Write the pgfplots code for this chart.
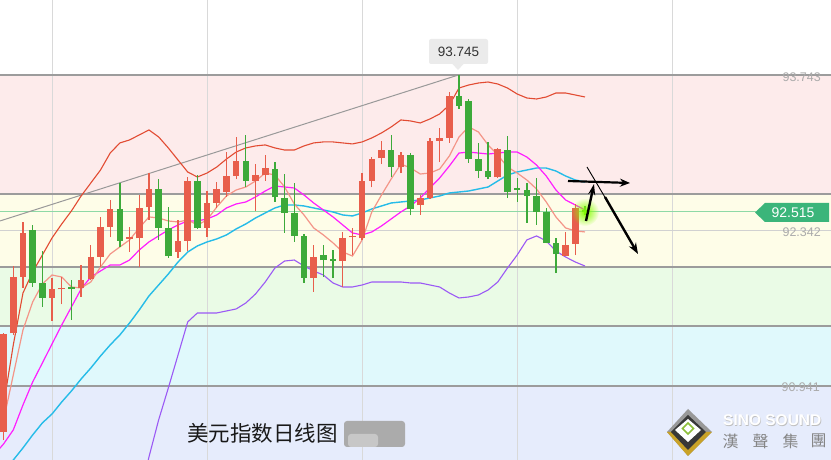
\documentclass[border=0pt]{standalone}
\usepackage{fontspec}
\setmainfont{Liberation Sans}
\newfontfamily\cjk{Noto Sans CJK SC}
\newfontfamily\cjktc{Noto Sans CJK TC}
\usepackage{pgfplots}
\usepackage{pgfplotstable}
\pgfplotsset{compat=1.18}
\usetikzlibrary{fadings,arrows.meta}

\definecolor{candleup}{HTML}{E85E4C}
\definecolor{candledn}{HTML}{3DAA3A}
\definecolor{bandpink}{HTML}{FDEBEB}
\definecolor{bandyel}{HTML}{FEFDE8}
\definecolor{bandgrn}{HTML}{EAFBE6}
\definecolor{bandcyan}{HTML}{E0F9FC}
\definecolor{bandlav}{HTML}{E6ECFC}
\definecolor{levelgray}{HTML}{9C9C9C}
\definecolor{gridgray}{HTML}{D9D9D9}
\definecolor{lastgreen}{HTML}{8ED9A6}
\definecolor{tagreen}{HTML}{3BB57A}
\definecolor{lblgray}{HTML}{ABABAB}
\definecolor{ubcol}{HTML}{E24B32}
\definecolor{midcol}{HTML}{26BCE8}
\definecolor{macol}{HTML}{FF1EFF}
\definecolor{salmon}{HTML}{F49588}
\definecolor{lbcol}{HTML}{9B59F5}
\definecolor{gold}{HTML}{C9A227}
\definecolor{logogreen}{HTML}{8DBF3A}

\tikzfading[name=glow, inner color=transparent!0, outer color=transparent!100]

% candles: index, open, high, low, close
\pgfplotstableread{
i o h l c
1 90.527 91.420 90.455 91.410
2 91.416 92.022 91.401 91.926
3 91.923 92.421 91.824 92.320
6 91.734 91.914 91.529 91.815
7 91.811 91.926 91.677 91.824
9 91.821 92.031 91.746 91.896
10 91.903 92.212 91.896 92.106
11 92.106 92.467 92.016 92.376
12 92.376 92.617 92.281 92.536
14 92.266 92.374 92.151 92.279
15 92.272 92.662 92.016 92.542
16 92.551 92.860 92.437 92.716
19 92.151 92.437 92.097 92.248
20 92.250 92.827 92.157 92.788
22 92.367 92.701 92.286 92.587
23 92.593 92.782 92.545 92.716
24 92.692 93.047 92.647 92.833
25 92.836 93.182 92.804 92.968
27 92.791 92.939 92.521 92.842
28 92.842 93.022 92.788 92.903
33 91.917 92.212 91.791 92.101
36 92.070 92.331 91.830 92.272
37 92.279 92.362 92.121 92.293
38 92.272 92.858 92.257 92.788
39 92.791 93.007 92.731 92.986
40 92.993 93.151 92.939 93.067
42 92.917 93.052 92.858 93.022
44 92.569 92.662 92.482 92.635
45 92.638 93.173 92.623 93.149
46 93.151 93.266 92.959 93.173
47 93.178 93.593 93.133 93.554
52 92.822 93.083 92.813 93.074
59 92.115 92.331 92.115 92.212
60 92.221 92.578 92.121 92.548
}\upcandles

\pgfplotstableread{
i o h l c
4 92.347 92.392 91.836 91.872
5 91.869 92.157 91.656 91.734
8 91.829 91.896 91.536 91.815
13 92.536 92.773 92.191 92.250
17 92.716 92.806 92.257 92.367
18 92.367 92.551 92.097 92.112
21 92.788 92.842 92.356 92.367
26 92.968 93.203 92.737 92.791
29 92.894 92.962 92.602 92.641
30 92.632 92.851 92.322 92.503
31 92.497 92.770 92.241 92.295
32 92.293 92.311 91.872 91.917
34 92.121 92.212 91.926 92.076
35 92.081 92.166 91.912 92.067
41 93.067 93.203 92.822 92.917
43 93.022 93.038 92.479 92.533
48 93.554 93.745 93.437 93.467
49 93.509 93.527 92.953 92.986
50 92.984 93.133 92.813 92.881
51 92.878 93.142 92.804 92.822
53 93.067 93.194 92.638 92.692
54 92.722 92.813 92.602 92.709
55 92.707 92.767 92.412 92.656
56 92.656 92.813 92.392 92.512
57 92.506 92.542 92.227 92.232
58 92.227 92.272 91.957 92.130
61 92.527 92.563 92.482 92.513
}\dncandles

% bands and averages: upper, middle, lower, ma10, ma5
\pgfplotstableread{
i ub mid lb ma ms
0 90.455 90.058 nan 90.319 90.410
1 90.770 90.166 nan 90.419 90.635
2 91.311 90.274 nan 90.545 91.040
3 91.779 90.383 nan 90.770 91.446
4 91.968 90.500 nan 90.977 91.698
5 92.121 90.608 nan 91.148 91.860
6 92.275 90.689 nan 91.320 91.941
7 92.401 90.797 nan 91.491 91.923
8 92.518 90.896 nan 91.653 91.833
9 92.653 91.004 nan 91.815 91.824
10 92.770 91.103 nan 91.923 91.878
11 92.887 91.211 nan 91.977 92.013
12 93.040 91.311 nan 92.031 92.130
13 93.131 91.401 nan 92.031 92.194
14 93.158 91.509 nan 92.076 92.257
15 93.203 91.626 89.914 92.166 92.365
16 93.248 91.752 90.301 92.239 92.464
17 93.185 91.851 90.635 92.293 92.455
18 93.086 91.950 90.923 92.347 92.428
19 92.977 92.058 91.220 92.392 92.419
20 92.869 92.148 91.518 92.428 92.437
21 92.824 92.203 91.599 92.428 92.392
22 92.860 92.239 91.599 92.446 92.437
23 92.914 92.266 91.599 92.482 92.554
24 92.986 92.302 91.617 92.545 92.653
25 93.049 92.356 91.635 92.581 92.707
26 93.086 92.401 91.689 92.599 92.734
27 93.104 92.455 91.770 92.644 92.788
28 93.113 92.500 91.878 92.698 92.860
29 93.086 92.545 92.004 92.743 92.842
30 93.067 92.572 92.067 92.734 92.734
31 93.067 92.572 92.076 92.725 92.581
32 93.104 92.563 92.022 92.662 92.482
33 93.131 92.545 91.977 92.590 92.365
34 93.140 92.527 91.941 92.527 92.302
35 93.140 92.509 91.869 92.464 92.230
36 93.131 92.482 91.833 92.392 92.148
37 93.122 92.473 91.833 92.320 92.112
38 93.140 92.500 91.851 92.302 92.257
39 93.176 92.536 91.878 92.329 92.509
40 93.221 92.563 91.878 92.383 92.662
41 93.275 92.590 91.878 92.446 92.806
42 93.338 92.599 91.878 92.509 92.941
43 93.329 92.608 91.869 92.563 92.905
44 93.311 92.617 91.869 92.635 92.851
45 93.347 92.635 91.851 92.725 92.860
46 93.392 92.653 91.833 92.815 92.896
47 93.473 92.680 91.779 92.923 93.013
48 93.626 92.689 91.734 93.040 93.185
49 93.653 92.698 91.743 93.049 93.275
50 93.671 92.716 91.761 93.040 93.230
51 93.680 92.734 91.806 93.031 93.113
52 93.662 92.788 91.878 93.040 93.022
53 93.626 92.842 92.004 93.049 92.914
54 93.572 92.869 92.121 93.049 92.860
55 93.536 92.887 92.257 93.004 92.797
56 93.527 92.905 92.293 92.932 92.716
57 93.545 92.905 92.248 92.833 92.599
58 93.581 92.878 92.157 92.707 92.464
59 93.581 92.833 92.103 92.617 92.365
60 93.563 92.797 92.058 92.572 92.338
61 93.545 92.779 92.022 92.527 92.329
}\lines

\pgfplotsset{
  candle/.style 2 args={draw=none, no markers, forget plot,
    error bars/.cd, y dir=plus, y explicit, error mark=none,
    error bar style={draw=#1, solid, line width=#2}},
}

\begin{document}
\begin{tikzpicture}
\begin{axis}[
  at={(0,0)}, anchor=south west,
  scale only axis, width=831bp, height=460bp,
  xmin=0.628, xmax=86.39, ymin=90.274, ymax=94.419,
  hide axis, clip=true,
  unbounded coords=discard,
]
% coloured zones of the retracement
\fill[bandpink] (axis cs:0,93.743) rectangle (axis cs:90,92.671);
\fill[bandyel]  (axis cs:0,92.671) rectangle (axis cs:90,92.013);
\fill[bandgrn]  (axis cs:0,92.013) rectangle (axis cs:90,91.482);
\fill[bandcyan] (axis cs:0,91.482) rectangle (axis cs:90,90.941);
\fill[bandlav]  (axis cs:0,90.941) rectangle (axis cs:90,90.0);

% vertical grid
\addplot[gridgray, line width=1bp, forget plot] coordinates {(6,90.2) (6,94.5)};
\addplot[gridgray, line width=1bp, forget plot] coordinates {(22,90.2) (22,94.5)};
\addplot[gridgray, line width=1bp, forget plot] coordinates {(38,90.2) (38,94.5)};
\addplot[gridgray, line width=1bp, forget plot] coordinates {(54,90.2) (54,94.5)};
\addplot[gridgray, line width=1bp, forget plot] coordinates {(70,90.2) (70,94.5)};

% retracement levels
\addplot[levelgray, line width=1.3bp, forget plot] coordinates {(0,93.743) (90,93.743)};
\addplot[levelgray, line width=1.3bp, forget plot] coordinates {(0,92.671) (90,92.671)};
\addplot[black!18, line width=1bp, forget plot] coordinates {(0,92.342) (90,92.342)};
\addplot[levelgray, line width=1.3bp, forget plot] coordinates {(0,92.013) (90,92.013)};
\addplot[levelgray, line width=1.3bp, forget plot] coordinates {(0,91.482) (90,91.482)};
\addplot[levelgray, line width=1.3bp, forget plot] coordinates {(0,90.941) (90,90.941)};
\addplot[lastgreen, line width=1.3bp, forget plot] coordinates {(0,92.515) (78.6,92.515)};

% trend line
\addplot[black!40, line width=1bp, forget plot] coordinates {(0.628,92.428) (48,93.745)};

% bands and averages
\addplot[lbcol, line width=1.1bp] table[x=i, y=lb] {\lines};
\addplot[midcol, line width=1.4bp] table[x=i, y=mid] {\lines};
\addplot[ubcol, line width=1.1bp] table[x=i, y=ub] {\lines};
\addplot[macol, line width=1.2bp] table[x=i, y=ma] {\lines};
\addplot[salmon, line width=1.2bp] table[x=i, y=ms] {\lines};

% wicks
\addplot[candle={candleup}{1.3bp}]
  table[x=i, y=l, y error expr=\thisrow{h}-\thisrow{l}] {\upcandles};
\addplot[candle={candledn}{1.3bp}]
  table[x=i, y=l, y error expr=\thisrow{h}-\thisrow{l}] {\dncandles};
% bodies
\addplot[candle={candleup}{6.6bp}]
  table[x=i, y=o, y error expr=\thisrow{c}-\thisrow{o}] {\upcandles};
\addplot[candle={candledn}{6.6bp}]
  table[x=i, y=c, y error expr=\thisrow{o}-\thisrow{c}] {\dncandles};
\end{axis}

% annotations in pixel units, y downwards
\begin{scope}[shift={(0bp,460bp)}, x=1bp, y=-1bp]
  \fill[lime!70!green, path fading=glow] (585,212) circle (14);
  % price tags
  \fill[black!8, rounded corners=2bp] (429,39) rectangle (488,64);
  \fill[black!8] (452,63.5) -- (464,63.5) -- (458,70) -- cycle;
  \node[text=black!80, font=\fontsize{13.5bp}{16bp}\selectfont] at (458.5,52) {93.745};
  \node[anchor=east, text=lblgray, font=\fontsize{12.5bp}{15bp}\selectfont, inner sep=0] at (821,77) {93.743};
  \node[anchor=east, text=lblgray, font=\fontsize{12.5bp}{15bp}\selectfont, inner sep=0] at (821,232) {92.342};
  \node[anchor=east, text=lblgray, font=\fontsize{12.5bp}{15bp}\selectfont, inner sep=0] at (820,387) {90.941};
  \fill[tagreen] (755,212.5) -- (765,203) -- (829,203) -- (829,222) -- (765,222) -- cycle;
  \node[text=white, font=\fontsize{14bp}{16bp}\selectfont, inner sep=0] at (793,212.5) {92.515};
  % hand drawn arrows
  \draw[line width=2.2bp, -{Stealth[length=10bp,width=8bp]}] (568,181) -- (630,183);
  \draw[line width=2.4bp, -{Stealth[length=11bp,width=7bp]}] (586,221) -- (594,184);
  \draw[line width=0.9bp] (587,167) -- (606,199);
  \draw[line width=2.4bp, -{Stealth[length=11bp,width=8bp]}] (605,197) -- (638,254);
  % title
  \node[anchor=west, inner sep=0, text=black!90, font=\cjk\fontsize{21.5bp}{24bp}\selectfont] at (187,433) {美元指数日线图};
  \fill[black!33, rounded corners=3bp] (344,421) rectangle (405,447);
  \fill[black!22, rounded corners=3bp] (348,434) rectangle (378,447);
  % logo
  \fill[black!40] (688,409) -- (712,432) -- (688,456) -- (667,432) -- cycle;
  \fill[gold] (667,432) -- (712,432) -- (688,456) -- cycle;
  \fill[black!78] (688,415) -- (706,432) -- (688,450) -- (671,432) -- cycle;
  \fill[white] (688,419) -- (701,430) -- (688,442) -- (675,430) -- cycle;
  \draw[logogreen, line width=1.5bp] (688,423) -- (693.5,428.5) -- (688,434) -- (682.5,428.5) -- cycle;
  \node[anchor=west, inner sep=0, text=black!25, font=\bfseries\fontsize{15.5bp}{17bp}\selectfont] at (723.7,421.2) {SINO SOUND};
  \node[anchor=west, inner sep=0, text=white, font=\bfseries\fontsize{15.5bp}{17bp}\selectfont] at (723,420.5) {SINO SOUND};
  \node[inner sep=0, text=black!48, font=\cjktc\fontsize{16bp}{18bp}\selectfont] at (730.5,441) {漢};
  \node[inner sep=0, text=black!48, font=\cjktc\fontsize{16bp}{18bp}\selectfont] at (760.5,441) {聲};
  \node[inner sep=0, text=black!48, font=\cjktc\fontsize{16bp}{18bp}\selectfont] at (790.5,441) {集};
  \node[inner sep=0, text=black!48, font=\cjktc\fontsize{16bp}{18bp}\selectfont] at (818.5,441) {團};
\end{scope}
\pgfresetboundingbox
\useasboundingbox (0,0) rectangle (831bp,460bp);
\end{tikzpicture}
\end{document}
